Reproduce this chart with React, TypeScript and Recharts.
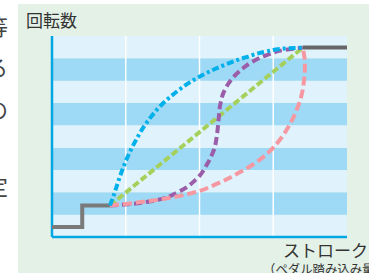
import { Line, LineChart, ReferenceArea, ReferenceLine, XAxis, YAxis } from "recharts";

// stroke position (0-4) vs. rotation speed (0-9 bands)
const idleLow = [
  { s: 0, r: 0.45 },
  { s: 0.41, r: 0.45 },
  { s: 0.41, r: 1.41 },
  { s: 0.786, r: 1.41 },
];
const idleHigh = [
  { s: 3.4, r: 8.48 },
  { s: 4, r: 8.48 },
];
const linear = [
  { s: 0.786, r: 1.41 },
  { s: 3.4, r: 8.48 },
];
const quickRise = [
  { s: 0.786, r: 1.41 },
  { s: 0.84, r: 1.9 },
  { s: 0.92, r: 2.7 },
  { s: 1.02, r: 3.55 },
  { s: 1.14, r: 4.35 },
  { s: 1.29, r: 5.15 },
  { s: 1.48, r: 5.9 },
  { s: 1.68, r: 6.48 },
  { s: 1.88, r: 6.95 },
  { s: 2.1, r: 7.35 },
  { s: 2.35, r: 7.72 },
  { s: 2.62, r: 8.04 },
  { s: 2.9, r: 8.3 },
  { s: 3.15, r: 8.44 },
  { s: 3.4, r: 8.48 },
];
const sCurve = [
  { s: 0.786, r: 1.41 },
  { s: 1.1, r: 1.49 },
  { s: 1.4, r: 1.64 },
  { s: 1.7, r: 2.0 },
  { s: 1.96, r: 2.6 },
  { s: 2.11, r: 3.3 },
  { s: 2.2, r: 3.95 },
  { s: 2.24, r: 4.65 },
  { s: 2.26, r: 5.3 },
  { s: 2.28, r: 5.9 },
  { s: 2.33, r: 6.5 },
  { s: 2.42, r: 7.0 },
  { s: 2.55, r: 7.45 },
  { s: 2.72, r: 7.85 },
  { s: 2.93, r: 8.17 },
  { s: 3.16, r: 8.38 },
  { s: 3.4, r: 8.48 },
];
const slowRise = [
  { s: 0.786, r: 1.41 },
  { s: 1.15, r: 1.54 },
  { s: 1.51, r: 1.7 },
  { s: 1.9, r: 1.97 },
  { s: 2.25, r: 2.4 },
  { s: 2.52, r: 2.85 },
  { s: 2.75, r: 3.3 },
  { s: 2.94, r: 3.8 },
  { s: 3.09, r: 4.35 },
  { s: 3.2, r: 4.9 },
  { s: 3.3, r: 5.55 },
  { s: 3.38, r: 6.3 },
  { s: 3.42, r: 7.1 },
  { s: 3.43, r: 7.8 },
  { s: 3.41, r: 8.3 },
  { s: 3.4, r: 8.48 },
];
const bands = [0, 1, 2, 3, 4, 5, 6, 7, 8];
const strokeTicks = [1, 2, 3];
const sideChars = [
  { ch: "等", y: 25 },
  { ch: "る", y: 66 },
  { ch: "の", y: 108 },
  { ch: "）", y: 155 },
  { ch: "定", y: 185 },
];

const font = '"Noto Sans CJK JP", "Noto Sans", sans-serif';
const axisBlue = "#00a7e4";

export default function App() {
  return (
    <div
      style={{
        position: "absolute",
        left: 0,
        top: 0,
        width: 369,
        height: 273,
        overflow: "hidden",
        background: "#fff",
        fontFamily: font,
      }}
    >
      {sideChars.map((c) => (
        <div
          key={c.ch}
          style={{
            position: "absolute",
            left: -14,
            top: c.y - 13,
            fontSize: 22,
            lineHeight: "26px",
            color: "#444",
          }}
        >
          {c.ch}
        </div>
      ))}
      <div
        style={{
          position: "absolute",
          left: 18,
          top: 4,
          width: 351,
          height: 269,
          background: "#e3f1e6",
        }}
      />
      <div
        style={{
          position: "absolute",
          left: 26,
          top: 8,
          fontSize: 17,
          lineHeight: "24px",
          color: "#333",
        }}
      >
        回転数
      </div>
      <div style={{ position: "absolute", left: 0, top: 0 }}>
        <LineChart
          width={369}
          height={273}
          margin={{ top: 36, right: 22, bottom: 36, left: 52 }}
        >
          <XAxis
            type="number"
            dataKey="s"
            domain={[0, 4]}
            ticks={strokeTicks}
            tick={false}
            tickLine={false}
            axisLine={false}
            height={0}
            allowDataOverflow
          />
          <YAxis
            type="number"
            domain={[0, 9]}
            tick={false}
            tickLine={false}
            axisLine={false}
            width={0}
            allowDataOverflow
          />
          {bands.map((b) => (
            <ReferenceArea
              key={b}
              x1={0}
              x2={4}
              y1={b}
              y2={b + 1}
              fill={b % 2 === 0 ? "#e0f3fc" : "#9ed9f5"}
              fillOpacity={1}
              stroke="none"
            />
          ))}
          {strokeTicks.map((t) => (
            <ReferenceLine key={t} x={t} stroke="#ffffff" strokeWidth={1.5} />
          ))}
          <ReferenceLine x={0} stroke={axisBlue} strokeWidth={2.5} />
          <ReferenceLine y={0} stroke={axisBlue} strokeWidth={2.5} />
          <Line
            data={idleLow}
            dataKey="r"
            type="linear"
            stroke="#7a7a7a"
            strokeWidth={4}
            dot={false}
            isAnimationActive={false}
          />
          <Line
            data={idleHigh}
            dataKey="r"
            type="linear"
            stroke="#666666"
            strokeWidth={4}
            dot={false}
            isAnimationActive={false}
          />
          <Line
            data={linear}
            dataKey="r"
            type="linear"
            stroke="#a6d05c"
            strokeWidth={4}
            strokeDasharray="7 3"
            dot={false}
            isAnimationActive={false}
          />
          <Line
            data={sCurve}
            dataKey="r"
            type="monotoneY"
            stroke="#9b5ca8"
            strokeWidth={4}
            strokeDasharray="8 4"
            dot={false}
            isAnimationActive={false}
          />
          <Line
            data={slowRise}
            dataKey="r"
            type="monotoneY"
            stroke="#f598a2"
            strokeWidth={4}
            strokeDasharray="9 4"
            dot={false}
            isAnimationActive={false}
          />
          <Line
            data={quickRise}
            dataKey="r"
            type="monotoneY"
            stroke="#00b0ea"
            strokeWidth={4}
            strokeDasharray="7 3 3 3"
            dot={false}
            isAnimationActive={false}
          />
        </LineChart>
      </div>
      <div
        style={{
          position: "absolute",
          left: 283,
          top: 238,
          fontSize: 17,
          lineHeight: "24px",
          color: "#333",
          whiteSpace: "nowrap",
        }}
      >
        ストローク
      </div>
      <div
        style={{
          position: "absolute",
          left: 263,
          top: 261,
          fontSize: 12.4,
          lineHeight: "16px",
          color: "#333",
          whiteSpace: "nowrap",
        }}
      >
        （ペダル踏み込み量）
      </div>
    </div>
  );
}
